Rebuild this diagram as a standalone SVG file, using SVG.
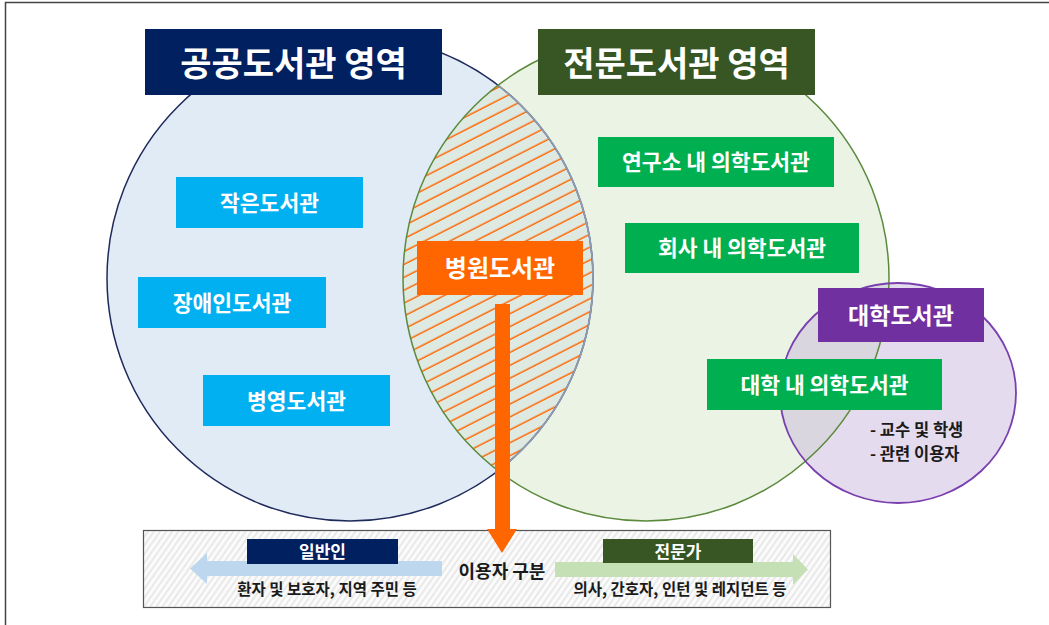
<svg xmlns="http://www.w3.org/2000/svg" width="1049" height="625" viewBox="0 0 1049 625">
<style>
text{font-family:"Noto Sans CJK KR","Noto Sans",sans-serif;font-weight:700;text-anchor:middle}
.w{fill:#ffffff}
.d{fill:#1a1a1a}
.t1{font-size:34px}
.t2{font-size:21.5px}
.t3{font-size:17px}
.t4{font-size:15.5px}
</style>
<defs>
<clipPath id="clipA"><circle cx="350" cy="278" r="243"/></clipPath>
<clipPath id="clipB"><circle cx="646" cy="278" r="243"/></clipPath>
<pattern id="hatch" patternUnits="userSpaceOnUse" width="40" height="11.5" patternTransform="rotate(-27)">
<line x1="0" y1="5" x2="40" y2="5" stroke="#ff6600" stroke-width="1.4"/>
</pattern>
<pattern id="stripe" patternUnits="userSpaceOnUse" width="20" height="5" patternTransform="rotate(-55)">
<rect width="20" height="5" fill="#fbfbfb"/>
<rect width="20" height="2" fill="#e9e9e9"/>
</pattern>
</defs>
<rect width="1049" height="625" fill="#ffffff"/>
<path d="M5.5,625 V2.5 H1049" fill="none" stroke="#444" stroke-width="1.5"/>

<g id="venn">
<circle cx="350" cy="278" r="243" fill="#e0ebf6"/>
<circle cx="646" cy="278" r="243" fill="#ebf3e5"/>
<g clip-path="url(#clipA)">
<circle cx="646" cy="278" r="243" fill="#dde9e1"/>
<circle cx="646" cy="278" r="243" fill="url(#hatch)"/>
</g>
<ellipse cx="898" cy="393" rx="118" ry="110" fill="#e5dbef"/>
<g clip-path="url(#clipB)"><ellipse cx="898" cy="393" rx="118" ry="110" fill="#d9d6df"/></g>
<circle cx="350" cy="278" r="243" fill="none" stroke="#1f2a5c" stroke-width="1.5"/>
<g clip-path="url(#clipB)"><circle cx="350" cy="278" r="243" fill="none" stroke="#8e9bb0" stroke-width="1.8"/></g>
<circle cx="646" cy="278" r="243" fill="none" stroke="#5b8a3c" stroke-width="1.5"/>
<ellipse cx="898" cy="393" rx="118" ry="110" fill="none" stroke="#7a3fae" stroke-width="1.8"/>
</g>

<g id="title-public">
<rect x="145" y="29" width="297" height="66" fill="#002060"/>
<text class="w t1" x="293.5" y="76">공공도서관 영역</text>
</g>
<g id="title-special">
<rect x="538" y="29" width="277" height="66" fill="#375623"/>
<text class="w t1" x="676.5" y="76">전문도서관 영역</text>
</g>

<g id="small-lib">
<rect x="176" y="177" width="187" height="51" fill="#00b0f0"/>
<text class="w t2" x="269.5" y="210.5">작은도서관</text>
</g>
<g id="disabled-lib">
<rect x="138" y="277" width="188" height="51" fill="#00b0f0"/>
<text class="w t2" x="232" y="310.5">장애인도서관</text>
</g>
<g id="military-lib">
<rect x="203" y="375" width="187" height="51" fill="#00b0f0"/>
<text class="w t2" x="296.5" y="408.5">병영도서관</text>
</g>

<g id="hospital-lib">
<rect x="417" y="241" width="166" height="54" fill="#ff6600"/>
<text class="w" x="500" y="277" font-size="24">병원도서관</text>
</g>

<g id="institute-lib">
<rect x="598" y="137" width="236" height="50" fill="#00b050"/>
<text class="w t2" x="716" y="170">연구소 내 의학도서관</text>
</g>
<g id="company-lib">
<rect x="625" y="223" width="234" height="50" fill="#00b050"/>
<text class="w t2" x="742" y="256">회사 내 의학도서관</text>
</g>
<g id="university-lib">
<rect x="818" y="288" width="166" height="54" fill="#7030a0"/>
<text class="w" x="901" y="324" font-size="23">대학도서관</text>
</g>
<g id="univ-medical-lib">
<rect x="707" y="359" width="235" height="51" fill="#00b050"/>
<text class="w t2" x="824.5" y="392.5">대학 내 의학도서관</text>
</g>
<g id="univ-users">
<text class="d" x="870" y="436" font-size="16.5" style="text-anchor:start">- 교수 및 학생</text>
<text class="d" x="870" y="460" font-size="16.5" style="text-anchor:start">- 관련 이용자</text>
</g>

<g id="user-type-box">
<rect x="143.5" y="530.5" width="687" height="77" fill="url(#stripe)" stroke="#555" stroke-width="1.2"/>
</g>

<g id="connectors">
<path d="M495,304 H510 V529 H517 L502,553 L487,529 H495 Z" fill="#ff6600"/>
<path d="M442,561 H207 V553 L190,568.5 L207,584 V576 H442 Z" fill="#bdd7ee"/>
<path d="M555,562 H793 V554 L808,569.5 L793,585 V577 H555 Z" fill="#c5e0b4"/>
</g>

<g id="general">
<rect x="247" y="539" width="151" height="25" fill="#002060"/>
<text class="w t3" x="322.5" y="558">일반인</text>
<text class="d t4" x="327" y="595">환자 및 보호자, 지역 주민 등</text>
</g>
<g id="expert">
<rect x="603" y="539" width="150" height="24" fill="#375623"/>
<text class="w t3" x="678" y="557.5">전문가</text>
<text class="d t4" x="680" y="595">의사, 간호자, 인턴 및 레지던트 등</text>
</g>
<g id="user-type-label">
<text class="d" x="502" y="578" font-size="18">이용자 구분</text>
</g>
</svg>
